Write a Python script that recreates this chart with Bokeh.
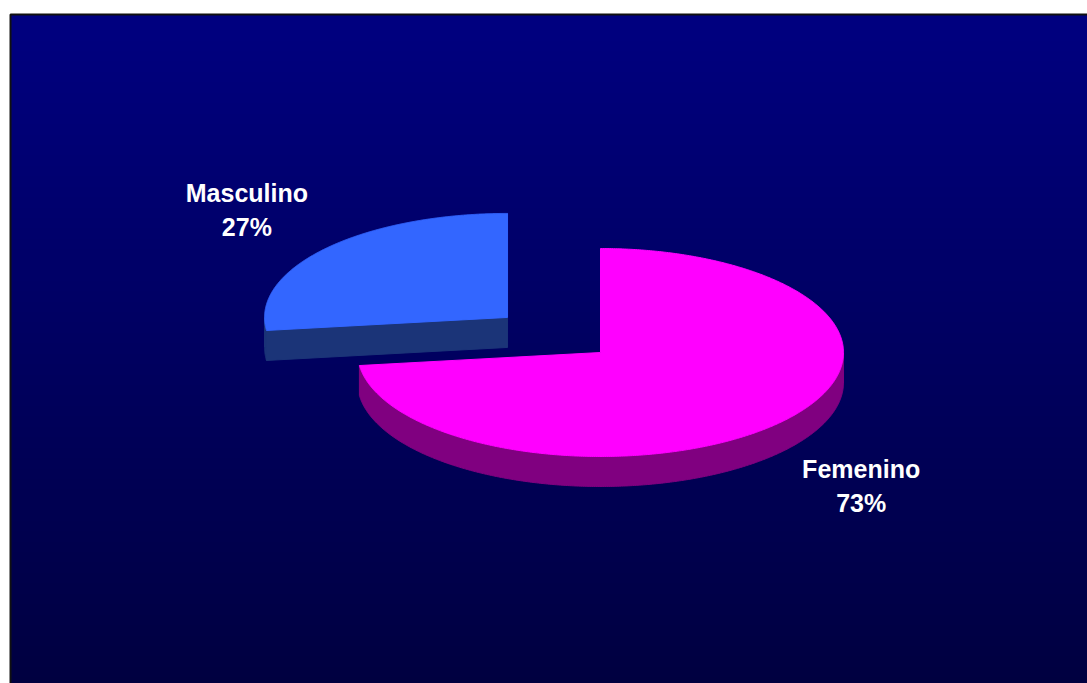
import numpy as np
from bokeh.plotting import figure
from bokeh.models import Range1d
from bokeh.core.properties import value
from bokeh.embed import file_html
from bokeh.resources import INLINE

# ---- data ----
categories = ["Femenino", "Masculino"]
shares = [73, 27]
pct_labels = ["73%", "27%"]

# ---- style ----
top_colors = ["#FF00FF", "#3366FF"]
side_colors = ["#800080", "#1B3478"]
explode = [0.0, 0.51]

W, H = 1087, 683
CX, CY = 600.0, 352.0     # pie centre (screen px)
RX, RY = 243.0, 104.0     # ellipse radii
DEPTH = 30.0              # 3D thickness
FRAME_X, FRAME_Y = 10, 14

p = figure(width=W, height=H, x_range=Range1d(0, W), y_range=Range1d(0, H),
           output_backend="svg", toolbar_location=None, min_border=0)
p.axis.visible = False
p.grid.visible = False
p.outline_line_color = None
p.background_fill_color = "white"
p.border_fill_color = "white"


def Y(ys):
    return H - np.asarray(ys, dtype=float)


# ---- background gradient ----
n = H - FRAME_Y
img = np.empty((n, 1), dtype=np.uint32)
view = img.view(dtype=np.uint8).reshape((n, 1, 4))
t = np.linspace(0.0, 1.0, n)          # 0 = bottom row, 1 = top row
view[:, 0, 0] = 0
view[:, 0, 1] = 0
view[:, 0, 2] = np.round(64 + (128 - 64) * t).astype(np.uint8)
view[:, 0, 3] = 255
p.image_rgba(image=[img], x=FRAME_X, y=0, dw=W - FRAME_X, dh=n)
p.line(x=[FRAME_X, FRAME_X, W], y=Y([H, FRAME_Y, FRAME_Y]), line_color="#111111", line_width=2)

# ---- slices ----
total = float(sum(shares))
start = 90.0
slices = []
for i, v in enumerate(shares):
    sweep = v / total * 360.0
    a0, a1 = start, start - sweep
    start = a1
    mid = np.radians((a0 + a1) / 2.0)
    ox = CX + explode[i] * RX * np.cos(mid)
    oy = CY - explode[i] * RY * np.sin(mid)
    slices.append(dict(i=i, a0=a0, a1=a1, mid=mid, ox=ox, oy=oy))


def rim(s, deg):
    r = np.radians(deg)
    return s["ox"] + RX * np.cos(r), s["oy"] - RY * np.sin(r)


order = sorted(slices, key=lambda s: -np.sin(s["mid"]))
for s in order:
    i = s["i"]
    sc = side_colors[i]
    tc = top_colors[i]
    # cut faces
    for ang, normal in ((s["a0"], s["a0"] + 90.0), (s["a1"], s["a1"] - 90.0)):
        if np.sin(np.radians(normal)) < -1e-6:
            rx_, ry_ = rim(s, ang)
            xs = [s["ox"], rx_, rx_, s["ox"]]
            ys = [s["oy"], ry_, ry_ + DEPTH, s["oy"] + DEPTH]
            p.patch(x=xs, y=Y(ys), fill_color=sc, line_color=sc, line_width=1)
    # outer side
    thetas = np.linspace(s["a1"], s["a0"], 600)
    front = np.sin(np.radians(thetas)) <= 0
    runs = []
    cur = []
    for th, f in zip(thetas, front):
        if f:
            cur.append(th)
        elif cur:
            runs.append(cur)
            cur = []
    if cur:
        runs.append(cur)
    for run in runs:
        if len(run) < 2:
            continue
        px, py = rim(s, np.array(run))
        xs = np.concatenate([px, px[::-1]])
        ys = np.concatenate([py, (py + DEPTH)[::-1]])
        p.patch(x=xs, y=Y(ys), fill_color=sc, line_color=sc, line_width=1)
    # top
    th = np.linspace(s["a0"], s["a1"], 600)
    px, py = rim(s, th)
    xs = np.concatenate([[s["ox"]], px])
    ys = np.concatenate([[s["oy"]], py])
    p.patch(x=xs, y=Y(ys), fill_color=tc, line_color=tc, line_width=1)

# ---- labels ----
lx, ly1, ly2, names, pcts = [], [], [], [], []
for s in slices:
    sn = np.sin(s["mid"])
    ax = s["ox"] + 1.43 * RX * np.cos(s["mid"])
    ay = s["oy"] - 1.41 * RY * sn + (47.0 if sn < 0 else 0.0)
    lx.append(ax)
    ly1.append(ay - 27)
    ly2.append(ay + 7)
    names.append(categories[s["i"]])
    pcts.append(pct_labels[s["i"]])

for ys, txt in ((ly1, names), (ly2, pcts)):
    p.text(x=lx, y=Y(ys), text=txt, text_color="white",
           text_font=value("Liberation Sans"), text_font_style="bold",
           text_font_size="25px", text_align="center", text_baseline="alphabetic")

open("out.html", "w").write(file_html(p, INLINE))
